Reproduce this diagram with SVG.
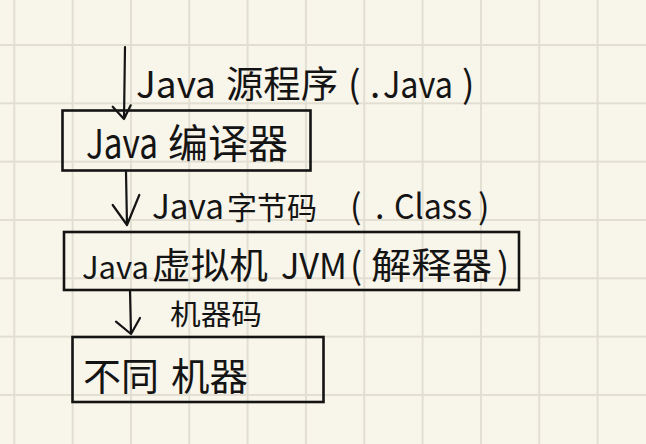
<svg xmlns="http://www.w3.org/2000/svg" width="646" height="444" viewBox="0 0 646 444">
<style>
.bg{fill:#f8f5ea}
.grid{stroke:#e2ded2;stroke-width:2;fill:none}
.box{fill:none;stroke:#141414;stroke-width:2.6}
.conn{fill:none;stroke:#141414;stroke-width:2.2;stroke-linecap:round;stroke-linejoin:round}
.t{font-family:"Noto Sans CJK SC","Liberation Sans",sans-serif;fill:#141414;font-weight:400}
</style>
<defs>
<pattern id="gridp" patternUnits="userSpaceOnUse" x="13.3" y="44" width="58.33" height="58.33">
<path class="grid" d="M1 0V58.33M0 1H58.33"/>
</pattern>
</defs>
<rect class="bg" x="0" y="0" width="646" height="444"/>
<rect x="0" y="0" width="646" height="444" fill="url(#gridp)"/>

<g id="connectors">
<path class="conn" d="M125 47L124 119M112.7 106.7L124 119L130.7 105.3"/>
<path class="conn" d="M126 172L127 225M112.7 205L127 225L139.3 195"/>
<path class="conn" d="M130 291L131 334M116 321.7L131 334L140 318"/>
<text class="t" font-size="37" y="98"><tspan x="136">Java</tspan><tspan x="226" textLength="112" lengthAdjust="spacingAndGlyphs">源程序</tspan><tspan x="348">(</tspan><tspan x="370">.</tspan><tspan x="383" textLength="70" lengthAdjust="spacingAndGlyphs">Java</tspan><tspan x="462">)</tspan></text>
<text class="t" font-size="34" y="219"><tspan x="152" textLength="72" lengthAdjust="spacingAndGlyphs">Java</tspan><tspan x="227" font-size="31" textLength="90" lengthAdjust="spacingAndGlyphs">字节码</tspan><tspan x="350">(</tspan><tspan x="375">.</tspan><tspan x="394" textLength="78" lengthAdjust="spacingAndGlyphs">Class</tspan><tspan x="478">)</tspan></text>
<text class="t" font-size="28" y="325" x="170" textLength="92" lengthAdjust="spacingAndGlyphs">机器码</text>
</g>

<g id="node-compiler">
<rect class="box" x="62.5" y="110.5" width="248" height="60"/>
<text class="t" font-size="40" y="158"><tspan x="86" textLength="72" lengthAdjust="spacingAndGlyphs">Java</tspan><tspan x="168" textLength="120" lengthAdjust="spacingAndGlyphs">编译器</tspan></text>
</g>

<g id="node-jvm">
<rect class="box" x="64" y="232" width="455" height="58"/>
<text class="t" font-size="36" y="279"><tspan x="82" font-size="31">Java</tspan><tspan x="152" textLength="116" lengthAdjust="spacingAndGlyphs">虚拟机</tspan><tspan x="281" textLength="66" lengthAdjust="spacingAndGlyphs">JVM</tspan><tspan x="350">(</tspan><tspan x="371" textLength="121" lengthAdjust="spacingAndGlyphs">解释器</tspan><tspan x="497">)</tspan></text>
</g>

<g id="node-machines">
<rect class="box" x="72.5" y="337" width="251" height="65"/>
<text class="t" font-size="38" y="390"><tspan x="83" textLength="76" lengthAdjust="spacingAndGlyphs">不同</tspan><tspan x="171" textLength="77" lengthAdjust="spacingAndGlyphs">机器</tspan></text>
</g>
</svg>
